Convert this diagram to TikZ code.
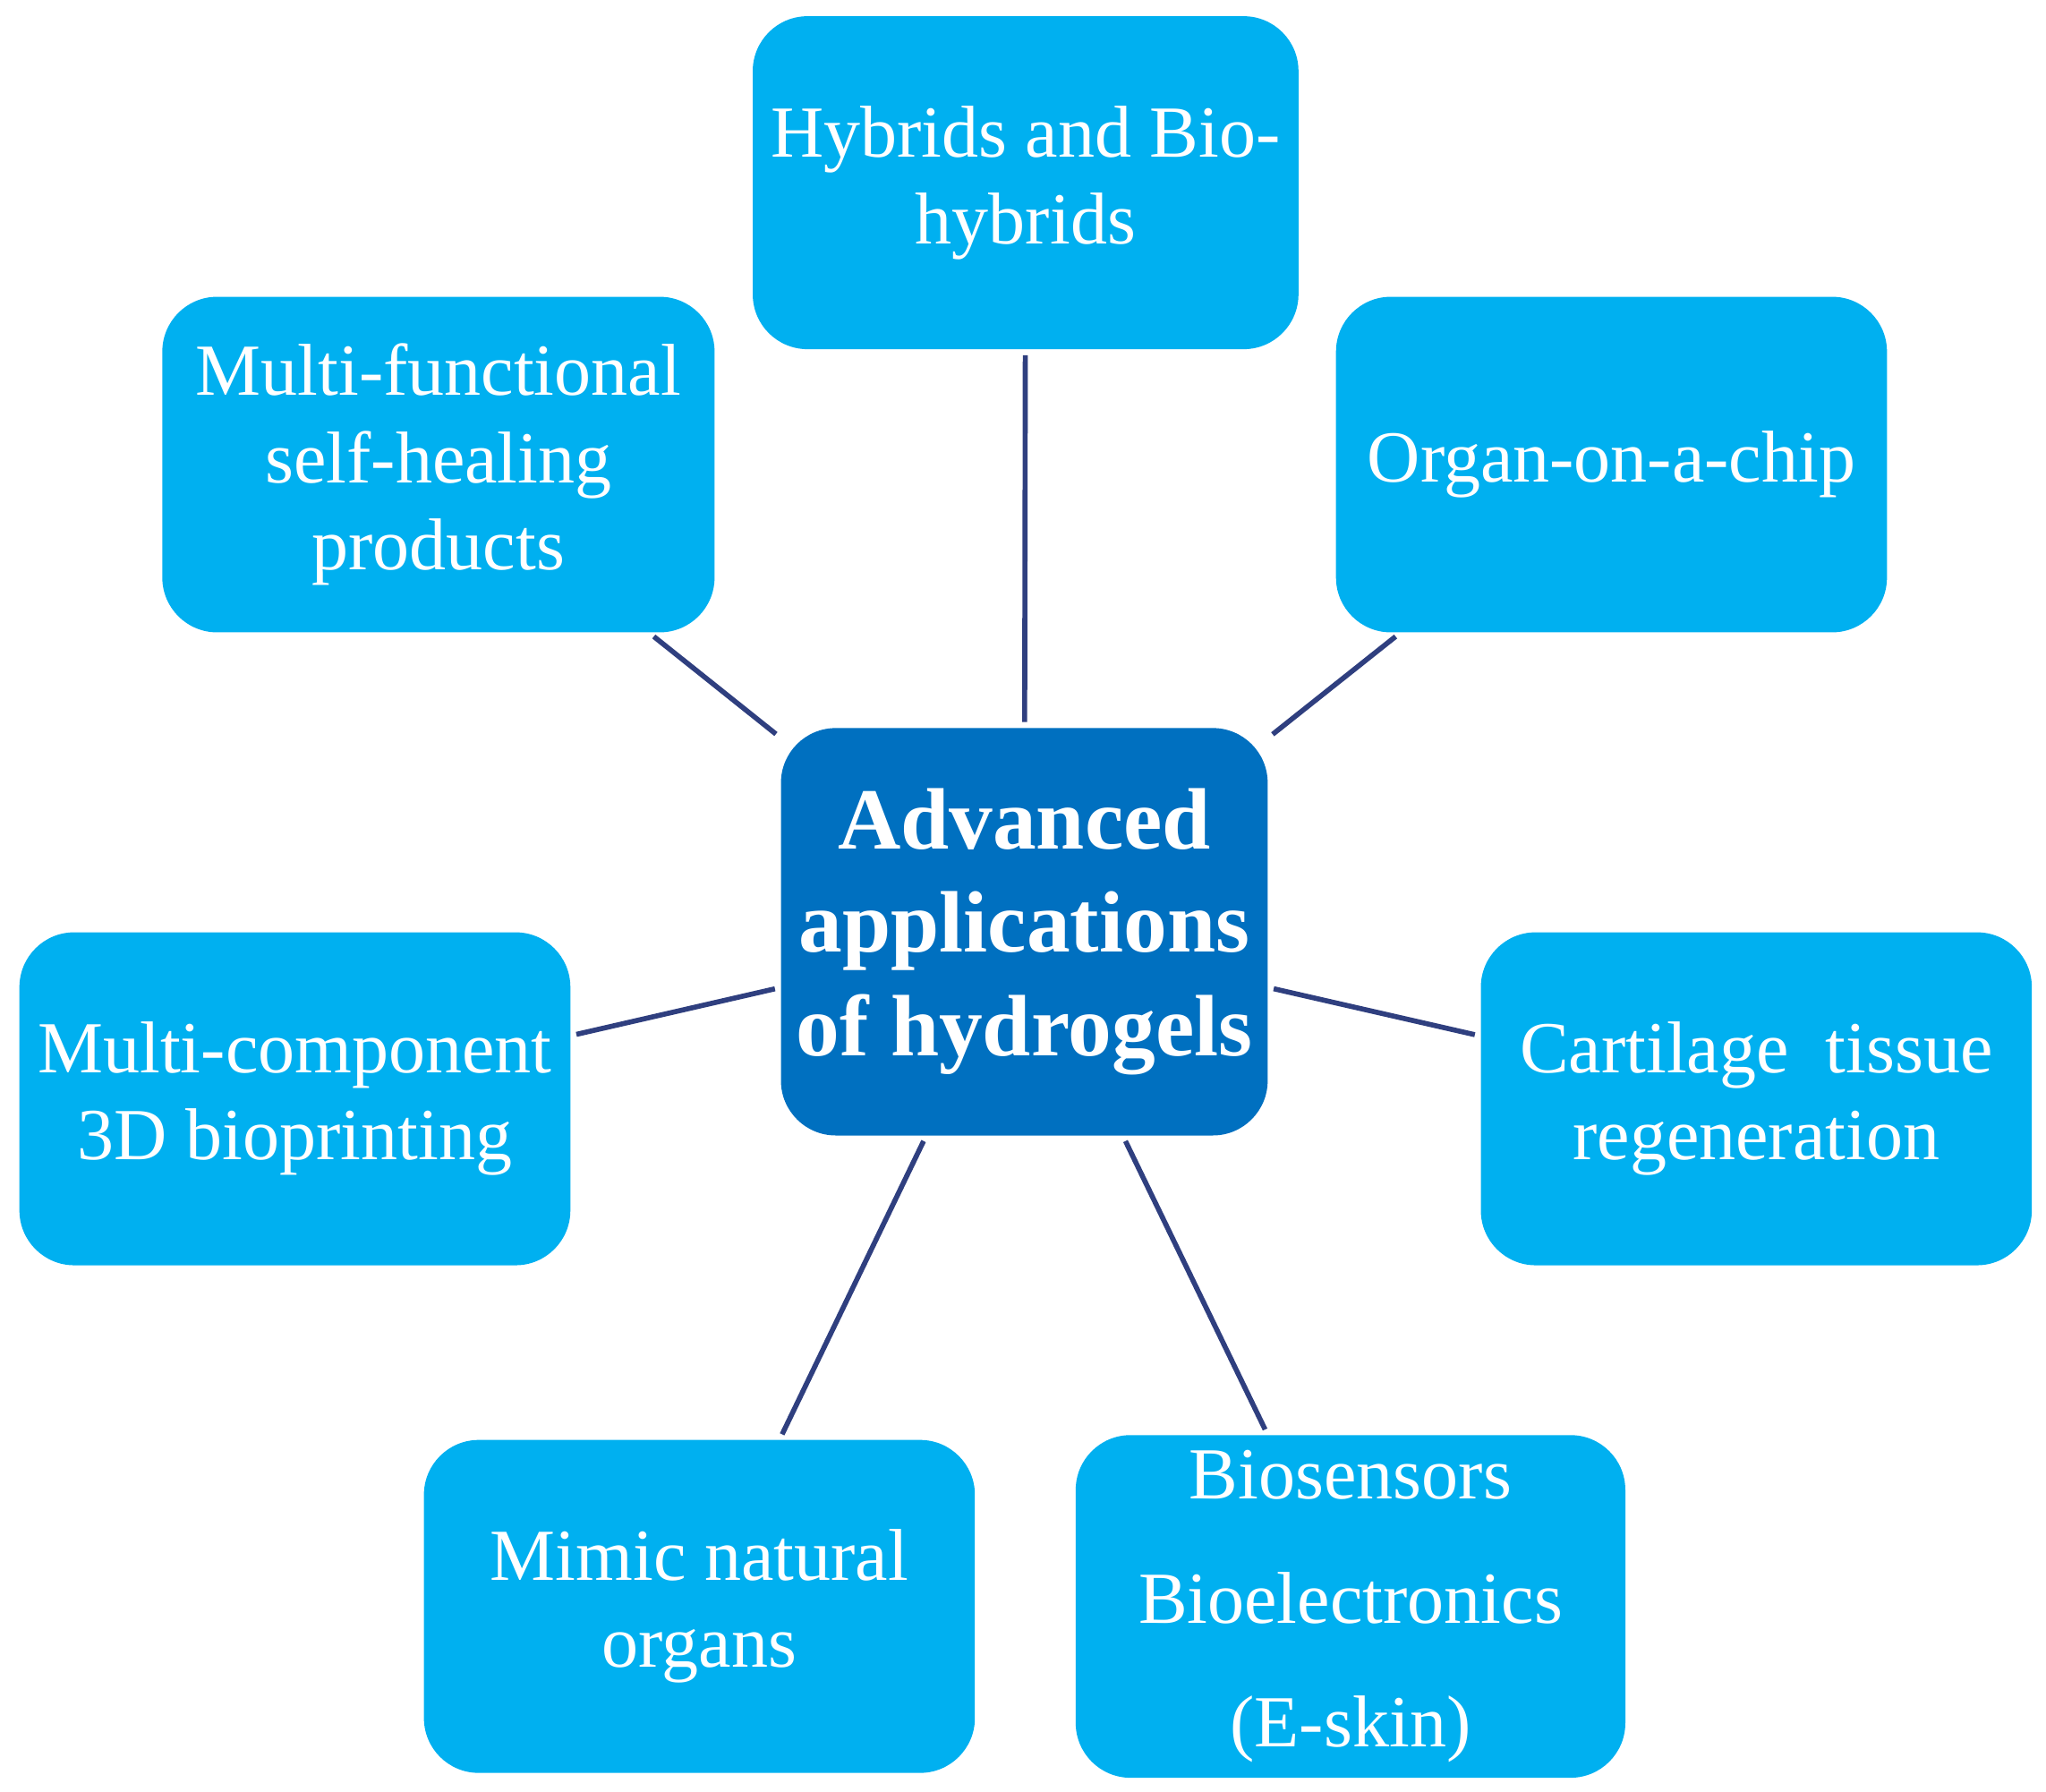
\documentclass[tikz,border=0pt]{standalone}
\usepackage{fontspec}
\setmainfont{Liberation Serif}
\definecolor{lblue}{HTML}{00B0F0}
\definecolor{dblue}{HTML}{0070C0}
\definecolor{navy}{HTML}{2F3F7F}
\begin{document}
\begin{tikzpicture}[x=0.01cm,y=-0.01cm,
  box/.style={draw=none,fill=lblue,rounded corners=0.42cm,text=white,align=center,
    minimum width=4.2cm,minimum height=2.55cm,font=\fontsize{16}{19}\selectfont},
  hub/.style={box,fill=dblue,minimum width=3.71cm,minimum height=3.12cm,
    font=\bfseries\fontsize{19}{22.5}\selectfont},
  link/.style={draw=navy,line width=1.1pt,shorten >=0.04cm,shorten <=0.04cm}]
\useasboundingbox (0,0) rectangle (1568,1373);
\node[hub] (c) at (785,714) {Advanced\\applications\\of hydrogels};
\node[box,minimum width=4.18cm] (t) at (786,140) {Hybrids and Bio-\\hybrids};
\node[box,minimum width=4.23cm,minimum height=2.57cm] (tl) at (336,356) {Multi-functional\\self-healing\\products};
\node[box,minimum width=4.22cm,minimum height=2.57cm] (tr) at (1235,356) {Organ-on-a-chip};
\node[box,minimum width=4.22cm] (l) at (226,842) {Multi-component\\3D bioprinting};
\node[box,minimum width=4.22cm] (r) at (1346,842) {Cartilage\ \ tissue\\regeneration};
\node[box,minimum width=4.22cm] (bl) at (536,1231) {Mimic natural\\organs};
\node[box,minimum width=4.21cm,font=\fontsize{16}{27}\selectfont] (br) at (1035,1231) {Biosensors\\Bioelectronics\\(E-skin)};
\foreach \n in {t,tl,tr,l,r,bl,br} \draw[link] (c) -- (\n);
\end{tikzpicture}
\end{document}
